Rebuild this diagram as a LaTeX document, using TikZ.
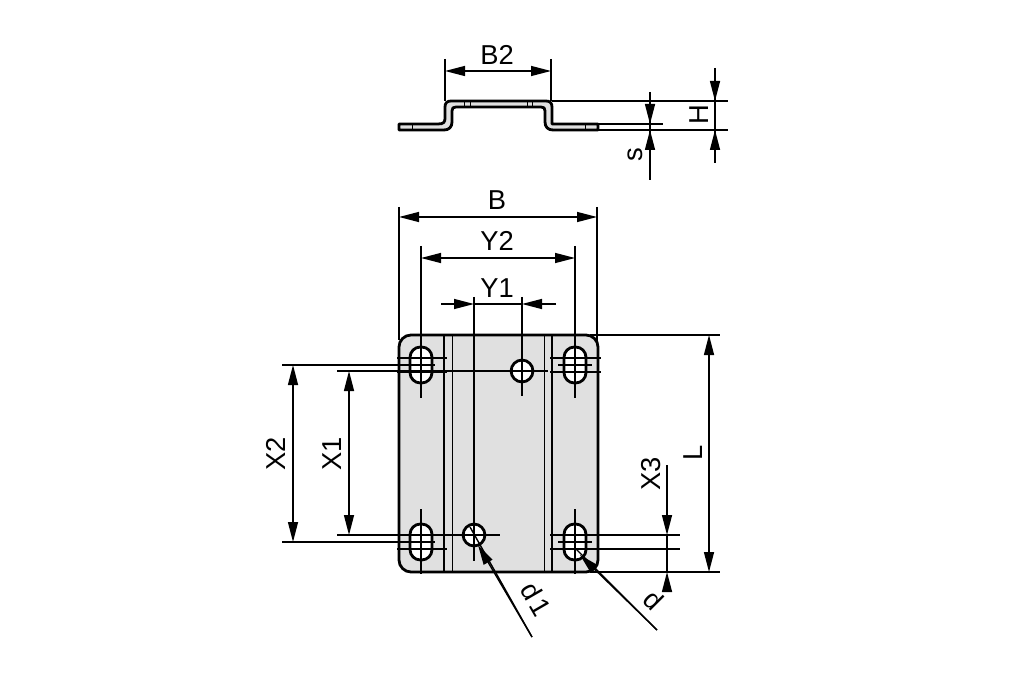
\documentclass[tikz,border=0pt]{standalone}
\usepackage{fontspec}
\setmainfont{Liberation Sans}
\usetikzlibrary{arrows.meta}
\definecolor{plate}{HTML}{E0E0E0}
\tikzstyle{o} = [black, line width=2.1pt]
\tikzstyle{n} = [black, line width=1.05pt]
\tikzstyle{m} = [black, line width=0.7pt]
\tikzstyle{d} = [n, {Triangle[length=15pt,width=7.5pt]}-{Triangle[length=15pt,width=7.5pt]}]
\tikzstyle{e} = [n, -{Triangle[length=15pt,width=7.5pt]}]
\tikzstyle{l} = [font=\fontsize{20.5}{21}\selectfont, inner sep=0pt]

\begin{document}
\begin{tikzpicture}
		[x=0.75pt, y=-0.75pt]

		\useasboundingbox (0,0) rectangle (1009,673);

		% side view
		\draw [o, fill=plate, line join=round]
			(399,124) -- (438,124) .. controls (444,124) and (445,122) .. (445,118)
			-- (445,107) .. controls (445,103) and (447,101) .. (451,101)
			-- (546,101) .. controls (550,101) and (552,103) .. (552,107)
			-- (552,124) -- (598,124) -- (598,130)
			-- (553,130) .. controls (548,130) and (545,127) .. (545,122)
			-- (545,111) .. controls (545,108) and (544,107) .. (541,107)
			-- (456,107) .. controls (453,107) and (452,108) .. (452,111)
			-- (452,122) .. controls (452,127) and (449,130) .. (444,130)
			-- (399,130) -- cycle;
		\foreach \x in {412,585} \draw [m] (\x,124) -- (\x,130);
		\foreach \x in {464,470,527,532} \draw [m] (\x,101) -- (\x,107);

		\draw [n] (445,59) -- (445,101);
		\draw [n] (551,59) -- (551,101);
		\draw [d] (445,71) -- (551,71);
		\node [l] (b2) at (497,55) {B2};

		\draw [n] (552,101) -- (728,101);
		\draw [n] (598,130) -- (728,130);
		\draw [n] (598,124) -- (663,124);
		\draw [n] (650,92) -- (650,180);
		\draw [e] (650,100) -- (650,124);
		\draw [e] (650,154) -- (650,130);
		\draw [n] (715,68) -- (715,163);
		\draw [e] (715,77) -- (715,101);
		\draw [e] (715,154) -- (715,130);
		\node [l, rotate=90] (s) at (635,155) {s};
		\node [l, rotate=90] (h) at (699,115) {H};

		% front view
		\draw [o, fill=plate, rounded corners=9pt] (399,335) rectangle (598,572);
		\draw [o] (444,335) -- (444,572);
		\draw [o] (552,335) -- (552,572);
		\draw [m] (452,335) -- (452,572);
		\draw [m] (544,335) -- (544,572);

		\foreach \x/\y/\n in {421/365/a, 575/365/b, 421/542/c, 575/542/f} {
			\draw [o, fill=white, rounded corners=7.8pt]
				(\x-11,\y-18) rectangle (\x+11,\y+18);
			\coordinate (slot\n) at (\x,\y);
		}
		\draw [o, fill=white] (522,371) circle (8.2pt);
		\draw [o, fill=white] (474,535) circle (8.2pt);

		% extension lines
		\draw [n] (399,207) -- (399,340);
		\draw [n] (597,207) -- (597,342);
		\draw [n] (421,246) -- (421,398);
		\draw [n] (575,246) -- (575,398);
		\draw [n] (474,297) -- (474,561);
		\draw [n] (522,297) -- (522,396);
		\draw [n] (421,509) -- (421,574);
		\draw [n] (575,509) -- (575,574);

		\foreach \y in {358,372,535,549} {
			\draw [n] (397,\y) -- (447,\y);
			\draw [n] (550,\y) -- (601,\y);
		}
		\draw [n] (558,365) -- (592,365);
		\draw [n] (558,542) -- (592,542);
		\draw [n] (282,365) -- (435,365);
		\draw [n] (282,542) -- (435,542);
		\draw [n] (337,371) -- (548,371);
		\draw [n] (337,535) -- (500,535);
		\draw [n] (601,535) -- (680,535);
		\draw [n] (601,549) -- (680,549);
		\draw [n] (590,335) -- (720,335);
		\draw [n] (590,572) -- (720,572);

		% dimensions
		\draw [d] (399,217) -- (597,217);
		\draw [d] (421,258) -- (575,258);
		\draw [e] (441,304) -- (474,304);
		\draw [e] (556,304) -- (522,304);
		\draw [n] (474,304) -- (522,304);
		\draw [d] (293,365) -- (293,542);
		\draw [d] (349,371) -- (349,535);
		\draw [d] (709,335) -- (709,572);
		\draw [e] (667,465) -- (667,535);
		\draw [e] (667,583) -- (667,572);
		\draw [n] (667,535) -- (667,572);

		\node [l] (b) at (497,200) {B};
		\node [l] (y2) at (497,241) {Y2};
		\node [l] (y1) at (497,288) {Y1};
		\node [l, rotate=90] (x2) at (276,454) {X2};
		\node [l, rotate=90] (x1) at (332,454) {X1};
		\node [l, rotate=90] (x3) at (651,474) {X3};
		\node [l, rotate=90] (ll) at (693,453) {L};

		% leaders
		\coordinate (holed) at (470,527);
		\coordinate (slotd) at (575,548);
		\draw [n] (532,637) -- (holed);
		\draw [e] (532,637) -- (478,545);
		\draw [n] (657,630) -- (slotd);
		\draw [e] (657,630) -- (580,555);
		\node [l, rotate=-60] (d1) at (536,599) {d\kern2pt 1};
		\node [l, rotate=-45] (dd) at (654,600) {d};
	\end{tikzpicture}
\end{document}
